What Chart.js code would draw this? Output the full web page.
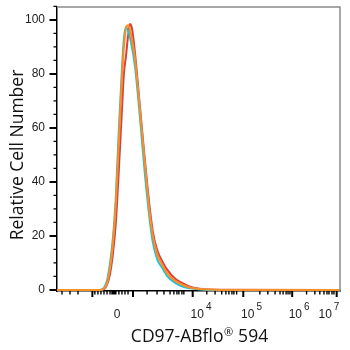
<!DOCTYPE html>
<html>
<head>
<meta charset="utf-8">
<script src="https://cdn.jsdelivr.net/npm/chart.js@4.4.1/dist/chart.umd.min.js"></script>
<style>
  html, body { margin: 0; padding: 0; background: #ffffff; }
  #wrap { width: 350px; height: 350px; }
</style>
</head>
<body>
<div id="wrap"><canvas id="c" width="350" height="350"></canvas></div>
<script>
// ---- data (x in display channels 0..1024, y = relative cell number %) ----
const xChannels = [0, 156, 170, 181, 192, 203, 213, 224, 235, 242, 250, 257, 264, 271, 282, 300, 318, 336, 347, 362, 384, 398, 427, 452, 481, 517, 590, 1024];
const seriesRed    = [0, 0, 0.3, 2, 6, 14, 25, 45, 66.7, 80, 87, 94, 98.5, 97, 88, 68, 48, 30, 21.5, 15, 10, 7.6, 4.2, 2.6, 1.2, 0.4, 0.05, 0];
const seriesCyan   = [0, 0, 0.8, 3.5, 10, 20, 35, 60, 82, 93, 97.5, 96, 93.5, 90, 83, 64, 43, 25.5, 17.5, 11.5, 7.6, 5.2, 2.7, 1.3, 0.6, 0.2, 0, 0];
const seriesOrange = [0, 0, 0.5, 2.5, 8, 18, 32, 55, 78, 90, 97, 98, 96.5, 93, 86, 67, 47, 28, 20, 13.5, 8.8, 6.3, 3.4, 2, 0.9, 0.3, 0, 0];

const xTickValues = [217, 521, 704, 876, 984];
const xTickBases = ['0', '10', '10', '10', '10'];
const xTickExps = ['', '4', '5', '6', '7'];
const xMajorTickMarks = [128, 275, 491, 674, 851, 1012];
const xMinorTickMarks = [18, 47, 76, 137, 148, 159, 170, 181, 192, 199, 203, 206, 210, 213, 224, 235, 246, 257,
  326, 362, 387, 409, 423, 434, 441, 452, 459,
  542, 572, 596, 611, 622, 633, 640, 650,
  734, 763, 789, 807, 818, 829, 836, 843,
  903, 933, 951, 966, 977, 984, 995, 1002];
const yTickValues = [0, 20, 40, 60, 80, 100];
const yMinorTickMarks = [5, 10, 15, 25, 30, 35, 45, 50, 55, 65, 70, 75, 85, 90, 95, 105];

const xTitleMain = 'CD97-ABflo';
const xTitleSup = '\u00AE';
const xTitleRest = ' 594';
const yTitle = 'Relative Cell Number';

function pts(ys) { return xChannels.map((x, i) => ({ x: x, y: ys[i] })); }

const TITLE_FONT = '"Open Sans", "Liberation Sans", sans-serif';
const TICK_FONT = '"Liberation Sans", Arial, sans-serif';

const decorPlugin = {
  id: 'decor',
  afterDraw(chart) {
    const ctx = chart.ctx;
    const xs = chart.scales.x, ys = chart.scales.y;
    const a = chart.chartArea;
    ctx.save();
    // frame top/right
    ctx.strokeStyle = '#8c8c8c';
    ctx.lineWidth = 1.5;
    ctx.beginPath();
    ctx.moveTo(a.left, a.top); ctx.lineTo(a.right, a.top); ctx.lineTo(a.right, a.bottom);
    ctx.stroke();
    ctx.strokeStyle = '#000';
    // x tick marks
    ctx.lineWidth = 2;
    ctx.beginPath();
    xMajorTickMarks.forEach(v => { const p = xs.getPixelForValue(v); ctx.moveTo(p, a.bottom); ctx.lineTo(p, a.bottom + 6); });
    ctx.stroke();
    ctx.lineWidth = 1.4;
    ctx.beginPath();
    xMinorTickMarks.forEach(v => { const p = xs.getPixelForValue(v); ctx.moveTo(p, a.bottom); ctx.lineTo(p, a.bottom + 3.5); });
    ctx.stroke();
    // y tick marks
    ctx.lineWidth = 2;
    ctx.beginPath();
    yTickValues.forEach(v => { const p = ys.getPixelForValue(v); ctx.moveTo(a.left, p); ctx.lineTo(a.left - 7.5, p); });
    ctx.stroke();
    ctx.lineWidth = 1.3;
    ctx.beginPath();
    yMinorTickMarks.forEach(v => { const p = ys.getPixelForValue(v); ctx.moveTo(a.left, p); ctx.lineTo(a.left - 3.5, p); });
    ctx.stroke();

    // x tick labels with superscript exponents
    ctx.fillStyle = '#222';
    ctx.textBaseline = 'alphabetic';
    ctx.textAlign = 'left';
    const baseFont = '12px ' + TICK_FONT, expFont = '10px ' + TICK_FONT;
    const baseY = a.bottom + 27;
    xTickValues.forEach((v, i) => {
      const cx = xs.getPixelForValue(v);
      ctx.font = baseFont;
      const wb = ctx.measureText(xTickBases[i]).width;
      ctx.font = expFont;
      const we = xTickExps[i] ? ctx.measureText(xTickExps[i]).width + 2 : 0;
      const x0 = cx - (wb + we) / 2;
      ctx.font = baseFont;
      ctx.fillText(xTickBases[i], x0, baseY);
      if (xTickExps[i]) { ctx.font = expFont; ctx.fillText(xTickExps[i], x0 + wb + 2, baseY - 8); }
    });

    // x title
    ctx.fillStyle = '#111';
    const tMain = '17.5px ' + TITLE_FONT, tSup = '11px ' + TITLE_FONT;
    ctx.font = tMain;
    const w1 = ctx.measureText(xTitleMain).width;
    const w3 = ctx.measureText(xTitleRest).width;
    ctx.font = tSup;
    const w2 = ctx.measureText(xTitleSup).width + 1;
    const tx = (a.left + a.right) / 2 + 1 - (w1 + w2 + w3) / 2;
    const ty = 342;
    ctx.font = tMain; ctx.fillText(xTitleMain, tx, ty);
    ctx.font = tSup; ctx.fillText(xTitleSup, tx + w1 + 0.5, ty - 6);
    ctx.font = tMain; ctx.fillText(xTitleRest, tx + w1 + w2, ty);

    // y title
    ctx.save();
    ctx.translate(23, 155);
    ctx.rotate(-Math.PI / 2);
    ctx.textAlign = 'center';
    ctx.font = tMain;
    ctx.fillText(yTitle, 0, 0);
    ctx.restore();

    ctx.restore();
  }
};

new Chart(document.getElementById('c'), {
  type: 'line',
  data: {
    datasets: [
      { data: pts(seriesOrange), borderColor: '#f3922a', borderWidth: 2, pointRadius: 0, cubicInterpolationMode: 'monotone', fill: false },
      { data: pts(seriesCyan),   borderColor: '#22bfd8', borderWidth: 2, pointRadius: 0, cubicInterpolationMode: 'monotone', fill: false },
      { data: pts(seriesRed),    borderColor: '#ec3a24', borderWidth: 2, pointRadius: 0, cubicInterpolationMode: 'monotone', fill: false }
    ]
  },
  options: {
    responsive: false,
    animation: false,
    layout: { padding: { top: 7, right: 10, left: 0, bottom: 0 } },
    plugins: { legend: { display: false }, tooltip: { enabled: false } },
    scales: {
      x: {
        type: 'linear', min: 0, max: 1024,
        afterBuildTicks(s) { s.ticks = xTickValues.map(v => ({ value: v })); },
        afterFit(s) { s.height = 59; s.paddingLeft = 0; s.paddingRight = 0; },
        ticks: { display: false },
        grid: { display: true, drawOnChartArea: false, drawTicks: false },
        border: { display: true, color: '#000', width: 1.5 },
        title: { display: false }
      },
      y: {
        type: 'linear', min: -0.4, max: 104.8,
        afterBuildTicks(s) { s.ticks = yTickValues.map(v => ({ value: v })); },
        afterFit(s) { s.width = 57; s.paddingTop = 0; s.paddingBottom = 0; },
        ticks: {
          padding: 12, color: '#222', font: { family: '"Liberation Sans", Arial, sans-serif', size: 12 },
          callback(v) { return String(v); }
        },
        grid: { display: true, drawOnChartArea: false, drawTicks: false },
        border: { display: true, color: '#000', width: 1.5 },
        title: { display: false }
      }
    }
  },
  plugins: [decorPlugin]
});
</script>
</body>
</html>
